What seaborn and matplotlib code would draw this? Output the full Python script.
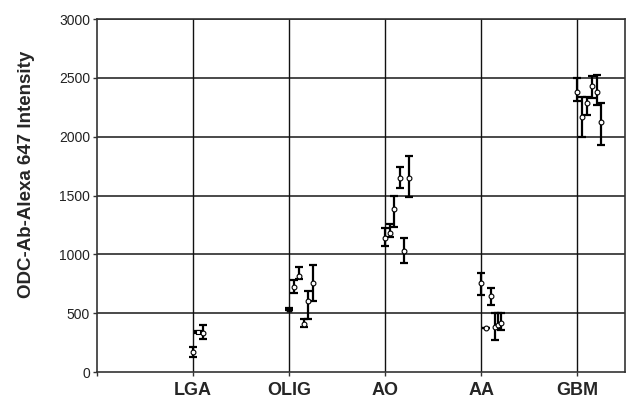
import matplotlib
matplotlib.use("Agg")
import matplotlib.pyplot as plt
import seaborn as sns
import pandas as pd
import numpy as np

categories = ["LGA", "OLIG", "AO", "AA", "GBM"]

# per-group sample slot (order within group), value, lower and upper error limits
lga_slot = [0, 1, 2]
lga_val = [170, 340, 331]
lga_lo = [127, 330, 280]
lga_hi = [212, 352, 400]
lga_mark = ["o", "s", "o"]

olig_slot = [0, 1, 2, 3, 3.8, 4.8]
olig_val = [535, 722, 816, 408, 603, 756]
olig_lo = [525, 671, 790, 382, 450, 603]
olig_hi = [548, 782, 892, 450, 688, 909]
olig_mark = ["^", "o", "o", "o", "o", "o"]

ao_slot = [0, 1, 1.8, 3, 3.8, 4.8]
ao_val = [1138, 1180, 1385, 1648, 1028, 1648]
ao_lo = [1070, 1147, 1232, 1563, 926, 1487]
ao_hi = [1223, 1257, 1495, 1742, 1138, 1835]
ao_mark = ["o"] * 6

aa_slot = [0, 1, 2, 2.8, 3.4, 4.0]
aa_val = [756, 374, 646, 382, 399, 416]
aa_lo = [654, 374, 569, 272, 374, 357]
aa_hi = [841, 374, 714, 501, 501, 501]
aa_mark = ["o"] * 6

gbm_slot = [0, 1, 2, 3, 4, 4.8]
gbm_val = [2379, 2166, 2285, 2430, 2379, 2124]
gbm_lo = [2302, 1997, 2183, 2328, 2268, 1929]
gbm_hi = [2498, 2336, 2336, 2515, 2523, 2285]
gbm_mark = ["o"] * 6

y_ticks = [0, 500, 1000, 1500, 2000, 2500, 3000]

groups = [
    (lga_slot, lga_val, lga_lo, lga_hi, lga_mark),
    (olig_slot, olig_val, olig_lo, olig_hi, olig_mark),
    (ao_slot, ao_val, ao_lo, ao_hi, ao_mark),
    (aa_slot, aa_val, aa_lo, aa_hi, aa_mark),
    (gbm_slot, gbm_val, gbm_lo, gbm_hi, gbm_mark),
]

rows = []
for gi, (sl, v, lo, hi, mk) in enumerate(groups):
    for s, vv, l, h, m in zip(sl, v, lo, hi, mk):
        rows.append({"group": categories[gi], "x": gi + 1 + s * 0.052,
                     "val": vv, "lo": l, "hi": h, "marker": m})
df = pd.DataFrame(rows)

sns.set_theme(style="white")
plt.rcParams["font.family"] = ["Liberation Sans", "DejaVu Sans"]

fig = plt.figure(figsize=(6.27, 4.01), dpi=100)
ax = fig.add_axes([0.1547, 0.0723, 0.8423, 0.8803])

# grid lines
for y in y_ticks[1:]:
    ax.axhline(y, color="#3a3a3a", lw=1.3, zorder=1)
for i in range(1, 6):
    ax.axvline(i, color="#111111", lw=1.0, zorder=1)

# error bars
ax.errorbar(df["x"], df["val"],
            yerr=[df["val"] - df["lo"], df["hi"] - df["val"]],
            fmt="none", ecolor="black", elinewidth=1.6, capsize=2.6,
            capthick=1.6, zorder=3)

# markers
for m, sub in df.groupby("marker"):
    fc = "black" if m == "^" else "white"
    sns.scatterplot(data=sub, x="x", y="val", marker=m, s=12,
                    color=fc, edgecolor="black", linewidth=0.8,
                    ax=ax, zorder=4, legend=False)

ax.set_xlim(0, 5.5)
ax.set_ylim(0, 3000)
ax.set_xticks(range(0, 6))
ax.set_xticklabels([""] + categories, fontsize=13, fontweight="bold")
ax.set_yticks(y_ticks)
ax.set_yticklabels([str(t) for t in y_ticks], fontsize=10, color="#222222")
ax.tick_params(axis="both", direction="out", length=3, width=1,
               color="#333333", bottom=True, left=True, pad=2)
ax.tick_params(axis="x", pad=4)
ax.set_xlabel("")
ax.set_ylabel("ODC-Ab-Alexa 647 Intensity", fontsize=13.5, fontweight="bold")
ax.yaxis.set_label_coords(-0.118, 0.56)

for side in ["left", "bottom", "top", "right"]:
    ax.spines[side].set_visible(True)
    ax.spines[side].set_color("#333333")
    ax.spines[side].set_linewidth(1.2)

fig.savefig("out.png", dpi=100)
